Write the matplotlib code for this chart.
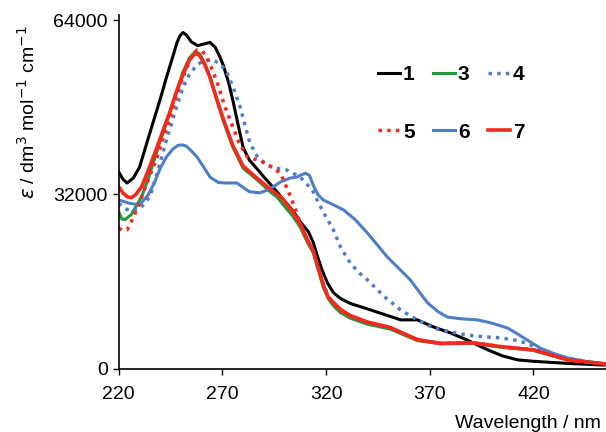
import matplotlib.pyplot as plt

plt.rcParams['font.family'] = ['Liberation Sans', 'DejaVu Sans']

# wavelength (nm) / epsilon values
wl_1 = [220, 222, 224, 227, 230, 235, 240, 243, 246, 248, 249.5, 251, 252.5, 255, 258, 261, 264, 266.5, 268.5, 270.3,
        273, 275, 278, 280, 283, 286.7, 290, 294.5, 300, 304, 307.5, 311.4, 313.8, 315.7, 318, 320.6, 323.5, 327,
        331.7, 340, 348, 356, 364, 371.8, 380, 388, 398, 405, 412.5, 420, 428.4, 440, 455]
eps_1 = [36100, 34800, 34100, 35000, 37000, 43300, 49500, 53500, 57200, 59800, 61100, 61700, 61300, 60000, 59300,
         59600, 59900, 59000, 57500, 55800, 52500, 49300, 44000, 40600, 38300, 36700, 35200, 33300, 30800, 29000,
         27000, 25200, 23200, 20800, 18200, 15800, 14000, 12900, 12000, 11000, 10000, 9000, 9000, 7700, 6600, 5300,
         3500, 2400, 1650, 1400, 1200, 950, 700]

wl_3 = [220, 221.5, 223, 226, 231, 234, 237, 240, 243, 247, 251, 254, 256.8, 259, 261.5, 264, 267, 270.3, 275, 280,
        286.7, 293, 296.4, 300, 304, 307.5, 311, 313.8, 316, 318.6, 321, 323.5, 327, 331.7, 340, 351, 364, 375, 391,
        404, 420, 436.6, 455]
eps_3 = [28800, 27500, 27400, 28300, 31600, 34600, 38200, 41800, 45100, 50000, 54500, 57000, 58200, 57800, 56000,
         53500, 49700, 45600, 40700, 36800, 34700, 32500, 31500, 29800, 28000, 26000, 23200, 21300, 18500, 15000,
         12900, 11600, 10300, 9300, 8200, 7300, 5200, 4600, 4700, 4000, 3400, 1650, 900]

wl_4 = [220, 223, 226, 230, 235, 239, 243, 247, 251, 254, 257.7, 261, 265.5, 269, 272, 275, 278.5, 281, 283.3, 287,
        291.5, 296, 301, 307.5, 311, 313.8, 316, 318.6, 323.5, 327, 331.7, 336, 340, 348, 356, 364, 371.8, 380, 388,
        396, 404, 411, 417, 423.4, 430, 440, 455]
eps_4 = [30400, 29400, 29000, 29300, 31600, 36500, 42000, 47000, 51700, 54000, 55800, 56500, 56700, 55900, 54500,
         51800, 48100, 44500, 41400, 38800, 37400, 36800, 36500, 35200, 33800, 32500, 30700, 28800, 25500, 22300,
         19400, 17600, 16300, 13300, 10800, 9000, 7500, 6800, 6200, 5900, 5700, 5300, 4700, 3500, 2600, 1700, 900]

wl_5 = [220, 222, 224, 226, 229, 231, 234, 238, 242, 245, 249, 252, 255, 257.7, 260, 262, 265, 268, 271, 275, 278,
        282, 285, 288, 291, 293, 298, 303, 307.5, 311, 313.8, 316, 318.6, 321, 323.5, 327, 331.7, 340, 351, 364, 375,
        391, 404, 420, 436.6, 455]
eps_5 = [25800, 25400, 25500, 27000, 29500, 31500, 34500, 38300, 43000, 46500, 51500, 54500, 57200, 58500, 58400,
         57500, 55000, 52000, 48300, 44400, 41500, 38900, 38500, 38300, 37600, 37200, 35900, 31500, 26800, 23500,
         21700, 18700, 15600, 13300, 12000, 10600, 9600, 8500, 7500, 5300, 4700, 4800, 4100, 3500, 1650, 900]

wl_6 = [220, 225, 230, 234, 237, 240, 243, 246, 248.5, 250.5, 252.5, 255, 257.7, 261, 264, 268, 272, 277, 280, 283,
        288, 291, 294.5, 298, 302.5, 306, 308, 310, 312, 313.8, 316, 318.6, 323, 328.3, 334, 340, 349.6, 360.7, 365,
        369, 374, 378.6, 385, 393, 400, 407.5, 412, 417, 423.4, 430, 436.6, 445, 455]
eps_6 = [31000, 30400, 30100, 31800, 34000, 36800, 38900, 40300, 41000, 41100, 40900, 40000, 38900, 37000, 35200,
         34200, 34100, 34100, 33300, 32500, 32300, 32700, 33400, 34300, 35000, 35200, 35600, 35900, 35500, 33700,
         32000, 31000, 30200, 29200, 27400, 24900, 20500, 16300, 14100, 12100, 10500, 9500, 9200, 9000, 8400, 7500,
         6500, 5300, 3800, 2800, 2000, 1400, 900]

wl_7 = [220, 222, 224, 226, 228, 231, 234, 238, 242, 245, 248, 251, 254, 256.8, 259, 261.5, 264, 267, 270.3, 275,
        280, 286.7, 293, 298, 303, 307.5, 311, 313.8, 316, 318.6, 321, 323.5, 327, 331.7, 340, 351, 364, 375, 391,
        404, 420, 436.6, 455]
eps_7 = [33400, 32300, 31600, 31400, 31900, 33400, 36200, 40200, 44400, 47500, 51000, 54000, 56600, 57900, 57500,
         55800, 53500, 49800, 46000, 41000, 37200, 35000, 33000, 31600, 29300, 26600, 23700, 21700, 18800, 15500,
         13200, 12200, 10900, 9800, 8600, 7600, 5400, 4700, 4800, 4100, 3500, 1650, 900]

x_ticks = [220, 270, 320, 370, 420]
y_ticks = [0, 32000, 64000]

black = '#000000'
green = '#1e9b3c'
blue = '#4f7ec8'
red = '#f4291c'

fig = plt.figure(figsize=(6.06, 4.32), dpi=100)
ax = fig.add_axes([0.196, 0.146, 0.804, 0.819])

lw = 2.2
h1, = ax.plot(wl_1, eps_1, color=black, lw=lw, label='1')
h3, = ax.plot(wl_3, eps_3, color=green, lw=lw, label='3')
h4, = ax.plot(wl_4, eps_4, color=blue, lw=2.5, ls=(0, (1, 1.5)), label='4')
h6, = ax.plot(wl_6, eps_6, color=blue, lw=lw, label='6')
h7, = ax.plot(wl_7, eps_7, color=red, lw=2.6, label='7')
h5, = ax.plot(wl_5, eps_5, color=red, lw=2.5, ls=(0, (1, 1.5)), label='5')

ax.set_xlim(220, 455)
ax.set_ylim(0, 64900)
ax.set_xticks(x_ticks)
ax.set_yticks(y_ticks)
ax.tick_params(direction='out', length=4, width=1, labelsize=14, pad=4)
ax.tick_params(axis='x', pad=8)
for s in ['top', 'right']:
    ax.spines[s].set_visible(False)
for s in ['left', 'bottom']:
    ax.spines[s].set_linewidth(1.2)

leg = ax.legend([h1, h5, h3, h6, h4, h7], ['1', '5', '3', '6', '4', '7'], ncol=3, frameon=False,
                loc='upper left', bbox_to_anchor=(378 / 606, 1 - 65 / 432), bbox_transform=fig.transFigure,
                handlelength=1.05, handletextpad=0.15, borderpad=0, borderaxespad=0,
                columnspacing=0.87, labelspacing=1.85, prop={'weight': 'bold', 'size': 15})

fig.text(0.992, 0.0, 'Wavelength / nm', ha='right', va='bottom', fontsize=14)
fig.text(0.046, 0.74, r'$\varepsilon$ / dm$^{3}$ mol$^{-1}$ cm$^{-1}$', rotation=90, ha='center', va='center',
         fontsize=14)

fig.savefig('out.png', dpi=100)
